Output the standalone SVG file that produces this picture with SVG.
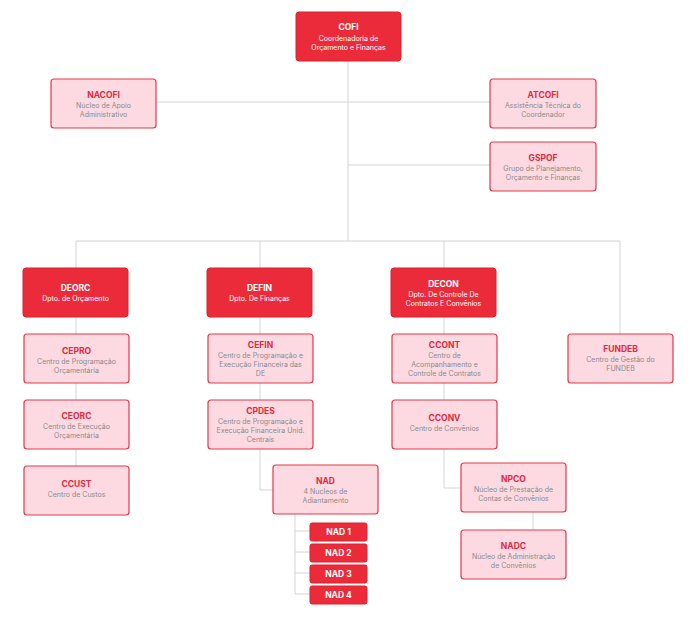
<svg xmlns="http://www.w3.org/2000/svg" width="691" height="618" viewBox="0 0 691 618">
<style>
.d{fill:#EC2B3A;stroke:#D9222F;stroke-width:1}
.l{fill:#FDDAE2;stroke:#E3384B;stroke-width:1.2}
text{font-family:Inter,"Liberation Sans",sans-serif;text-anchor:middle}
.dt{fill:#fff;font-size:8.5px;font-weight:700}
.ds{fill:#fff;font-size:7px}
.lt{fill:#E3283B;font-size:8.5px;font-weight:700}
.ls{fill:#8a8a8a;font-size:7px}
.c{fill:none;stroke:#d4d4d4;stroke-width:1}
</style>
<rect width="691" height="618" fill="#fff"/>
<g id="connectors" class="c">
<path d="M348 61V241M156 102H490M348 165H490M76 241H620M76 241V268M260 241V268M444 241V268M620 241V334"/>
<path d="M76 317V466M260 317V400M444 317V400"/>
<path d="M260 449V490H273M444 449V488H461M533 512V530"/>
<path d="M295 514V594M295 531H310M295 552H310M295 573H310M295 594H310"/>
</g>
<g id="COFI"><rect class="d" x="296" y="12" width="105" height="49" rx="3"/><text class="dt" x="348.5" y="30">COFI</text><text class="ds" x="348.5" y="41">Coordenadoria de</text><text class="ds" x="348.5" y="50">Orçamento e Finanças</text></g>
<g id="NACOFI"><rect class="l" x="51" y="79" width="105" height="49" rx="3"/><text class="lt" x="103.5" y="98">NACOFI</text><text class="ls" x="103.5" y="108">Núcleo de Apoio</text><text class="ls" x="103.5" y="117">Administrativo</text></g>
<g id="ATCOFI"><rect class="l" x="490" y="79" width="106" height="49" rx="3"/><text class="lt" x="543" y="98">ATCOFI</text><text class="ls" x="543" y="108">Assistência Técnica do</text><text class="ls" x="543" y="117">Coordenador</text></g>
<g id="GSPOF"><rect class="l" x="490" y="142" width="106" height="49" rx="3"/><text class="lt" x="543" y="161">GSPOF</text><text class="ls" x="543" y="171">Grupo de Planejamento,</text><text class="ls" x="543" y="180">Orçamento e Finanças</text></g>
<g id="DEORC"><rect class="d" x="23" y="268" width="105" height="49" rx="3"/><text class="dt" x="75.5" y="291">DEORC</text><text class="ds" x="75.5" y="301">Dpto. de Orçamento</text></g>
<g id="DEFIN"><rect class="d" x="207" y="268" width="105" height="49" rx="3"/><text class="dt" x="259.5" y="291">DEFIN</text><text class="ds" x="259.5" y="301">Dpto. De Finanças</text></g>
<g id="DECON"><rect class="d" x="391" y="268" width="105" height="49" rx="3"/><text class="dt" x="443.5" y="287">DECON</text><text class="ds" x="443.5" y="297">Dpto. De Controle De</text><text class="ds" x="443.5" y="306">Contratos E Convênios</text></g>
<g id="FUNDEB"><rect class="l" x="568" y="334" width="105" height="49" rx="3"/><text class="lt" x="620.5" y="352">FUNDEB</text><text class="ls" x="620.5" y="362">Centro de Gestão do</text><text class="ls" x="620.5" y="371">FUNDEB</text></g>
<g id="CEPRO"><rect class="l" x="24" y="334" width="105" height="49" rx="3"/><text class="lt" x="76.5" y="354">CEPRO</text><text class="ls" x="76.5" y="364">Centro de Programação</text><text class="ls" x="76.5" y="373">Orçamentária</text></g>
<g id="CEORC"><rect class="l" x="24" y="400" width="105" height="49" rx="3"/><text class="lt" x="76.5" y="419">CEORC</text><text class="ls" x="76.5" y="429">Centro de Execução</text><text class="ls" x="76.5" y="438">Orçamentária</text></g>
<g id="CCUST"><rect class="l" x="24" y="466" width="105" height="49" rx="3"/><text class="lt" x="76.5" y="487">CCUST</text><text class="ls" x="76.5" y="497">Centro de Custos</text></g>
<g id="CEFIN"><rect class="l" x="208" y="334" width="105" height="49" rx="3"/><text class="lt" x="260.5" y="348">CEFIN</text><text class="ls" x="260.5" y="358">Centro de Programação e</text><text class="ls" x="260.5" y="367">Execução Financeira das</text><text class="ls" x="260.5" y="376">DE</text></g>
<g id="CPDES"><rect class="l" x="208" y="400" width="105" height="49" rx="3"/><text class="lt" x="260.5" y="414">CPDES</text><text class="ls" x="260.5" y="424">Centro de Programação e</text><text class="ls" x="260.5" y="433">Execução Financeira Unid.</text><text class="ls" x="260.5" y="442">Centrais</text></g>
<g id="NAD"><rect class="l" x="273" y="465" width="105" height="49" rx="3"/><text class="lt" x="325.5" y="484">NAD</text><text class="ls" x="325.5" y="494">4 Nucleos de</text><text class="ls" x="325.5" y="503">Adiantamento</text></g>
<g id="NAD1"><rect class="d" x="310" y="523" width="57" height="18" rx="2"/><text class="dt" x="338.5" y="535">NAD 1</text></g>
<g id="NAD2"><rect class="d" x="310" y="544" width="57" height="18" rx="2"/><text class="dt" x="338.5" y="556">NAD 2</text></g>
<g id="NAD3"><rect class="d" x="310" y="565" width="57" height="18" rx="2"/><text class="dt" x="338.5" y="577">NAD 3</text></g>
<g id="NAD4"><rect class="d" x="310" y="586" width="57" height="18" rx="2"/><text class="dt" x="338.5" y="598">NAD 4</text></g>
<g id="CCONT"><rect class="l" x="392" y="334" width="105" height="49" rx="3"/><text class="lt" x="444.5" y="348">CCONT</text><text class="ls" x="444.5" y="358">Centro de</text><text class="ls" x="444.5" y="367">Acompanhamento e</text><text class="ls" x="444.5" y="376">Controle de Contratos</text></g>
<g id="CCONV"><rect class="l" x="392" y="400" width="105" height="49" rx="3"/><text class="lt" x="444.5" y="421">CCONV</text><text class="ls" x="444.5" y="431">Centro de Convênios</text></g>
<g id="NPCO"><rect class="l" x="461" y="463" width="105" height="49" rx="3"/><text class="lt" x="513.5" y="482">NPCO</text><text class="ls" x="513.5" y="492">Núcleo de Prestação de</text><text class="ls" x="513.5" y="501">Contas de Convênios</text></g>
<g id="NADC"><rect class="l" x="461" y="530" width="105" height="49" rx="3"/><text class="lt" x="513.5" y="549">NADC</text><text class="ls" x="513.5" y="559">Núcleo de Administração</text><text class="ls" x="513.5" y="568">de Convênios</text></g>
</svg>
